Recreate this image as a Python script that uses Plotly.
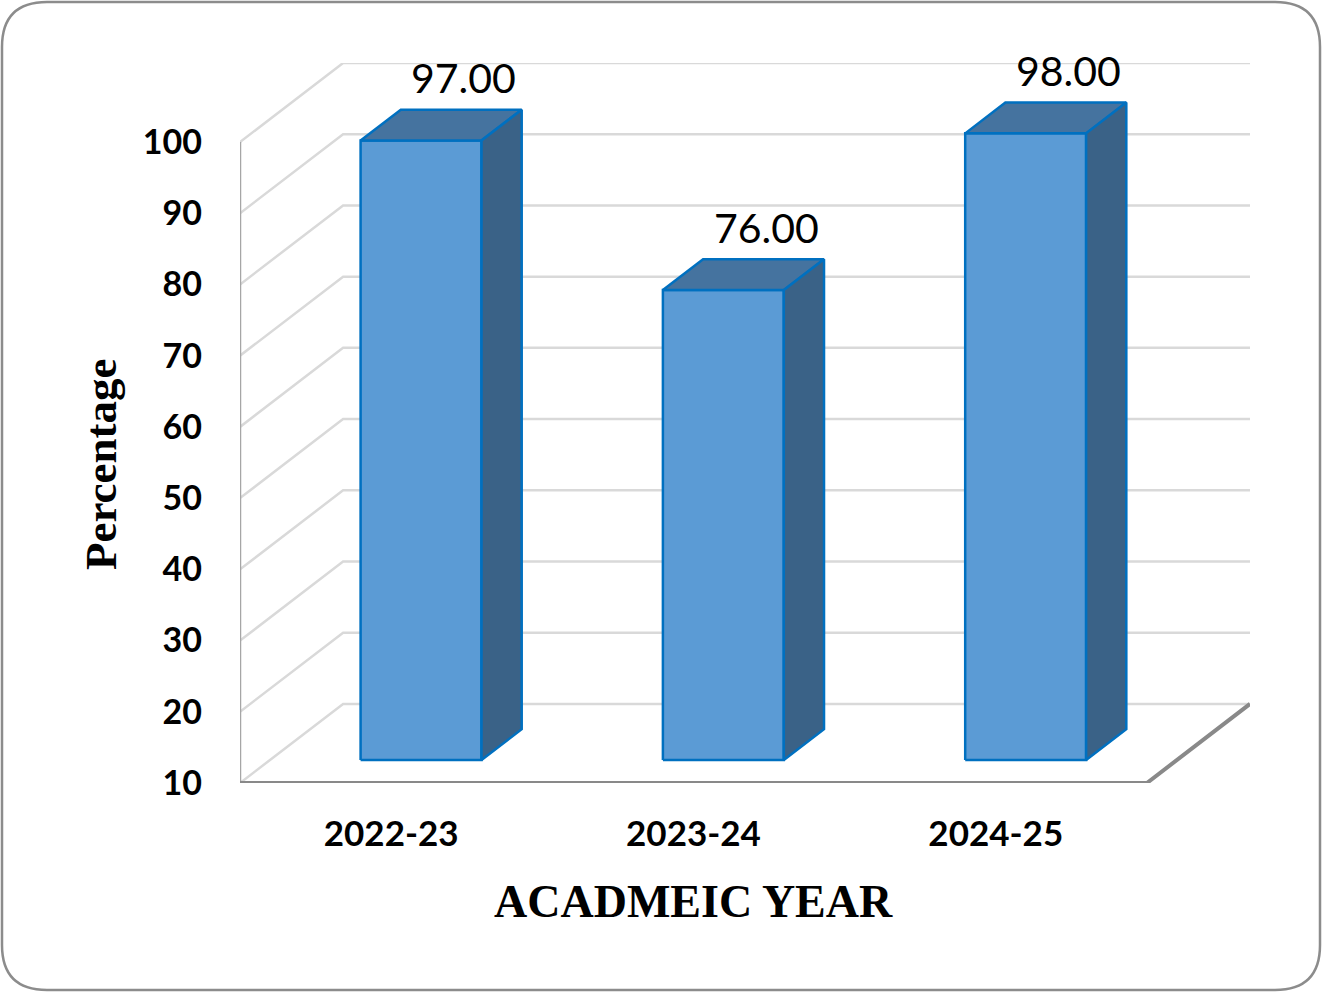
import plotly.graph_objects as go

# ---- data ----
years = ["2022-23", "2023-24", "2024-25"]
pass_pct = [97.00, 76.00, 98.00]
y_ticks = [10, 20, 30, 40, 50, 60, 70, 80, 90, 100]

# ---- fake 3D look (Excel style clustered column 3D) ----
DX, DY = 0.341, 11.1      # depth of the chart box, in axis units
BAR_W = 0.40
F0, F1 = 0.29, 0.68       # front / back of the bars inside the depth
Y0 = y_ticks[0]

FRONT = "#5B9BD5"
TOP = "#45739F"
SIDE = "#3A6287"
EDGE = "#0070C0"
GRID = "#D9D9D9"
FLOOR = "#898989"
WALL = "#A6A6A6"

W, H = 1322, 992
L, R, T, B = 240, 72, 63, 209


def to_paper(px, py):
    return (px - L) / (W - L - R), (H - B - py) / (H - T - B)


fig = go.Figure()

# back wall / side wall gridlines
n = len(years)
for v in y_ticks:
    fig.add_trace(go.Scatter(
        x=[0, DX, n + DX], y=[v, v + DY, v + DY],
        mode="lines", line=dict(color=GRID, width=2.5),
        hoverinfo="skip", showlegend=False,
    ))

# left wall front edge
fig.add_trace(go.Scatter(
    x=[0, 0], y=[Y0, y_ticks[-1]],
    mode="lines", line=dict(color=WALL, width=2.5),
    hoverinfo="skip", showlegend=False,
))

# floor front + right edge
fig.add_trace(go.Scatter(
    x=[0, n, n + DX], y=[Y0, Y0, Y0 + DY],
    mode="lines", line=dict(color=FLOOR, width=4),
    hoverinfo="skip", showlegend=False,
))

# bars: front, top and side faces
ddx, ddy = (F1 - F0) * DX, (F1 - F0) * DY
for i, (yr, v) in enumerate(zip(years, pass_pct)):
    x0 = i + 0.5 - BAR_W / 2 + F0 * DX
    x1 = x0 + BAR_W
    yb = Y0 + F0 * DY
    yt = v + F0 * DY
    faces = [
        ([x0, x1, x1, x0, x0], [yb, yb, yt, yt, yb], FRONT),
        ([x0, x1, x1 + ddx, x0 + ddx, x0], [yt, yt, yt + ddy, yt + ddy, yt], TOP),
        ([x1, x1 + ddx, x1 + ddx, x1, x1], [yb, yb + ddy, yt + ddy, yt, yb], SIDE),
    ]
    for fx, fy, col in faces:
        fig.add_trace(go.Scatter(
            x=fx, y=fy, mode="lines", fill="toself", fillcolor=col,
            line=dict(color=EDGE, width=2.5),
            hoverinfo="skip", showlegend=False,
        ))
    fig.add_annotation(
        x=i + 0.5 + 0.24, y=v + 12, text=f"{v:.2f}", showarrow=False,
        font=dict(family="Lato, sans-serif", size=41, color="black"),
        xanchor="center", yanchor="middle",
    )

# axis titles
px, py = to_paper(101, 464)
fig.add_annotation(
    x=px, y=py, xref="paper", yref="paper", text="<b>Percentage</b>",
    textangle=-90, showarrow=False, xanchor="center", yanchor="middle",
    font=dict(family="Liberation Serif, Times New Roman, serif", size=45, color="black"),
)
_, py = to_paper(0, 901)
fig.add_annotation(
    x=n / 2, y=py, xref="x", yref="paper", text="<b>ACADMEIC YEAR</b>",
    showarrow=False, xanchor="center", yanchor="middle",
    font=dict(family="Liberation Serif, Times New Roman, serif", size=46, color="black"),
)

# rounded outer border
bx0, by0 = to_paper(2, 2)
bx1, by1 = to_paper(1320, 990)
rx = 45 / (W - L - R)
ry = 45 / (H - T - B)
path = (
    f"M {bx0 + rx},{by0} L {bx1 - rx},{by0} Q {bx1},{by0} {bx1},{by0 - ry} "
    f"L {bx1},{by1 + ry} Q {bx1},{by1} {bx1 - rx},{by1} "
    f"L {bx0 + rx},{by1} Q {bx0},{by1} {bx0},{by1 + ry} "
    f"L {bx0},{by0 - ry} Q {bx0},{by0} {bx0 + rx},{by0} Z"
)
fig.add_shape(type="path", path=path, xref="paper", yref="paper",
              line=dict(color="#8C8C8C", width=2.5), layer="below")

fig.update_layout(
    width=W, height=H,
    margin=dict(l=L, r=R, t=T, b=B),
    paper_bgcolor="white",
    plot_bgcolor="white",
    showlegend=False,
    xaxis=dict(
        range=[0, n + DX],
        tickvals=[i + 0.5 for i in range(n)], ticktext=[f"<b>{y}</b>" for y in years],
        tickfont=dict(family="Lato, sans-serif", size=35, color="black"),
        showgrid=False, zeroline=False, showline=False, ticks="",
        ticklabelstandoff=27, fixedrange=True,
    ),
    yaxis=dict(
        range=[Y0, y_ticks[-1] + DY],
        tickvals=y_ticks, ticktext=[f"<b>{t}</b>" for t in y_ticks],
        tickfont=dict(family="Lato, sans-serif", size=34, color="black"),
        showgrid=False, zeroline=False, showline=False, ticks="",
        ticklabelstandoff=37, fixedrange=True,
    ),
)

# page body has a default 8px margin; drop it so the figure fills the window
fig.write_html("out.html", config={"displayModeBar": False},
               post_script="document.body.style.margin='0';")
